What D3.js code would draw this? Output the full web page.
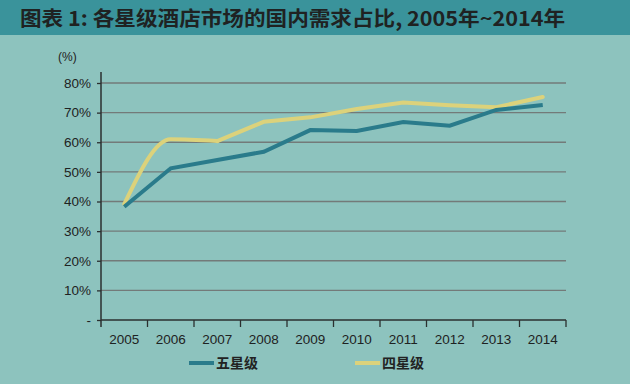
<!DOCTYPE html>
<html>
<head>
<meta charset="utf-8">
<script src="https://cdn.jsdelivr.net/npm/d3@7"></script>
<style>
  body { margin: 0; background: #8dc3be; }
  svg { display: block; }
</style>
</head>
<body>
<svg width="630" height="384"></svg>
<script>
const years = ['2005', '2006', '2007', '2008', '2009', '2010', '2011', '2012', '2013', '2014'];
const fiveStar = [38.2, 51.2, 54.0, 56.8, 64.1, 63.8, 66.8, 65.6, 70.9, 72.6];
const fourStar = [39.1, 61.0, 60.4, 66.9, 68.4, 71.2, 73.4, 72.5, 71.8, 75.3];
const yTicks = [0, 10, 20, 30, 40, 50, 60, 70, 80];
const seriesNames = ['五星级', '四星级'];

const svg = d3.select('svg');

// title bar
svg.append('rect')
    .attr('x', 0).attr('y', 0)
    .attr('width', 630).attr('height', 35)
    .attr('fill', '#3a939b');
svg.append('text')
    .attr('x', 20).attr('y', 26)
    .attr('textLength', 545)
    .attr('lengthAdjust', 'spacingAndGlyphs')
    .attr('font-family', '"Noto Sans CJK SC", "Liberation Sans", sans-serif')
    .attr('font-weight', 'bold')
    .attr('font-size', 20)
    .attr('fill', '#1f2222')
    .text('图表 1: 各星级酒店市场的国内需求占比, 2005年~2014年');

const plotLeft = 101, plotRight = 566, plotTop = 83, plotBottom = 320;

const x = d3.scaleBand().domain(years).range([plotLeft, plotRight]);
const y = d3.scaleLinear().domain([0, 80]).range([plotBottom, plotTop]);

// gridlines
svg.append('g')
    .selectAll('line')
    .data(yTicks.filter(d => d > 0))
    .join('line')
    .attr('x1', plotLeft).attr('x2', plotRight)
    .attr('y1', d => y(d)).attr('y2', d => y(d))
    .attr('stroke', '#737a79')
    .attr('stroke-width', 1.3);

// y axis
const yAxis = svg.append('g')
    .attr('transform', `translate(${plotLeft},0)`)
    .call(d3.axisLeft(y).tickValues(yTicks).tickSize(4).tickPadding(6)
        .tickFormat(d => d === 0 ? '-' : d + '%'));
yAxis.select('.domain').remove();
yAxis.append('line')
    .attr('x1', 0).attr('x2', 0)
    .attr('y1', 72).attr('y2', plotBottom + 7)
    .attr('stroke', '#2b2f2f').attr('stroke-width', 1.5);
yAxis.selectAll('.tick line').attr('stroke', '#2b2f2f').attr('stroke-width', 1.3);
yAxis.selectAll('.tick text')
    .attr('font-family', '"Liberation Sans", Arial, sans-serif')
    .attr('font-size', 13.5)
    .attr('fill', '#1e2222');

svg.append('text')
    .attr('x', 58).attr('y', 61)
    .attr('font-family', '"Liberation Sans", Arial, sans-serif')
    .attr('font-size', 12)
    .attr('fill', '#222')
    .text('(%)');

// x axis: ticks at band edges
const xAxis = svg.append('g')
    .attr('transform', `translate(0,${plotBottom})`);
xAxis.append('line')
    .attr('x1', plotLeft).attr('x2', plotRight)
    .attr('stroke', '#2b2f2f').attr('stroke-width', 1.5);
xAxis.selectAll('.edge')
    .data(years.slice(1).concat(['end']))
    .join('line')
    .attr('class', 'edge')
    .attr('x1', d => d === 'end' ? plotRight : x(d))
    .attr('x2', d => d === 'end' ? plotRight : x(d))
    .attr('y1', 0).attr('y2', 7)
    .attr('stroke', '#2b2f2f').attr('stroke-width', 1.3);
xAxis.selectAll('.lbl')
    .data(years)
    .join('text')
    .attr('class', 'lbl')
    .attr('x', d => x(d) + x.bandwidth() / 2)
    .attr('y', 24)
    .attr('text-anchor', 'middle')
    .attr('font-family', '"Liberation Sans", Arial, sans-serif')
    .attr('font-size', 13.5)
    .attr('fill', '#1e2222')
    .text(d => d);

// lines
const cx = d => x(d) + x.bandwidth() / 2;
const lineLinear = d3.line()
    .x(d => cx(d.year))
    .y(d => y(d.v));
const lineSmooth = d3.line()
    .x(d => cx(d.year))
    .y(d => y(d.v))
    .curve(d3.curveMonotoneX);

const fourPts = fourStar.map((v, i) => ({year: years[i], v}));
const fivePts = fiveStar.map((v, i) => ({year: years[i], v}));

// four-star: curved start, then straight segments
svg.append('path')
    .attr('d', lineSmooth(fourPts.slice(0, 3)))
    .attr('fill', 'none')
    .attr('stroke', '#dcd27b')
    .attr('stroke-linecap', 'round')
    .attr('stroke-width', 4);
svg.append('path')
    .attr('d', lineLinear(fourPts.slice(2)))
    .attr('fill', 'none')
    .attr('stroke', '#dcd27b')
    .attr('stroke-linecap', 'round')
    .attr('stroke-width', 4);
svg.append('path')
    .attr('d', lineLinear(fivePts))
    .attr('fill', 'none')
    .attr('stroke', '#2a7b8b')
    .attr('stroke-width', 4);

// legend
const legendColors = ['#2a7b8b', '#dcd27b'];
const legendX = [189, 355];
const legend = svg.append('g')
    .selectAll('g')
    .data(seriesNames)
    .join('g')
    .attr('transform', (d, i) => `translate(${legendX[i]},363)`);
legend.append('line')
    .attr('x1', 0).attr('x2', 25)
    .attr('stroke', (d, i) => legendColors[i])
    .attr('stroke-width', 4);
legend.append('text')
    .attr('x', 27).attr('y', 5)
    .attr('font-family', '"Noto Sans CJK SC", sans-serif')
    .attr('font-weight', 'bold')
    .attr('font-size', 14)
    .attr('fill', '#222')
    .text(d => d);
</script>
</body>
</html>
